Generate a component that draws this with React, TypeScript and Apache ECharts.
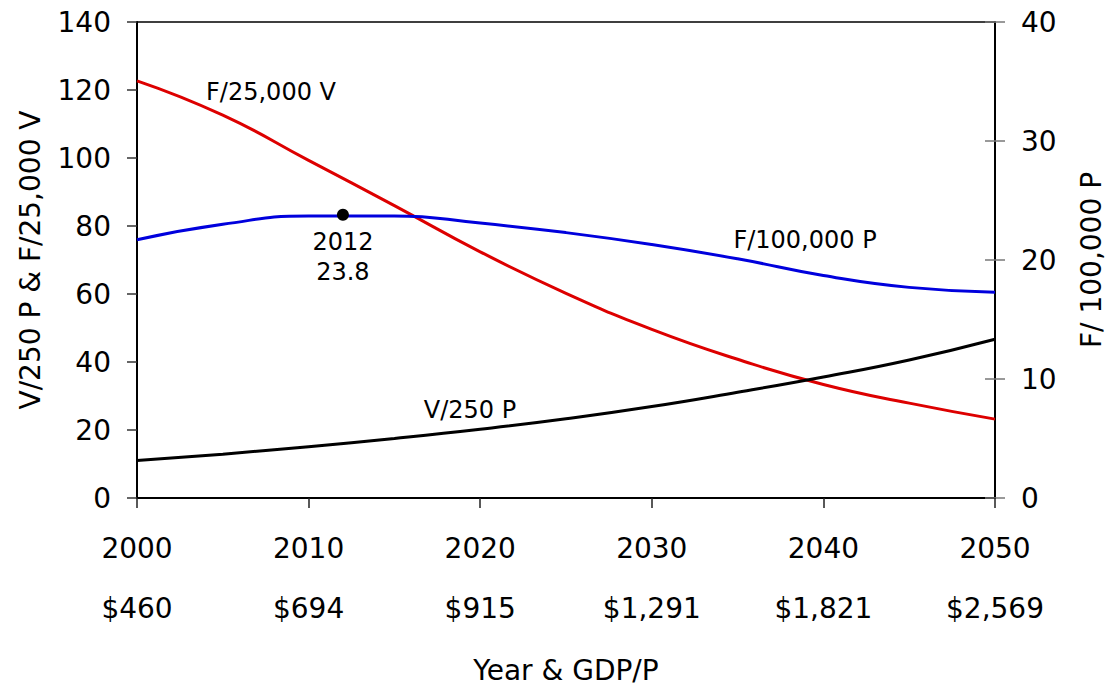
import React, { useEffect, useRef } from "react";
import * as echarts from "echarts";

// Tick values and labels
const tickYears = [2000, 2010, 2020, 2030, 2040, 2050];
const gdpLabels = ["$460", "$694", "$915", "$1,291", "$1,821", "$2,569"];

// Series (left axis): F/25,000 V and V/250 P
const years = [2000, 2005, 2010, 2015, 2020, 2025, 2030, 2035, 2040, 2045, 2050];
const fPer25kV = [122.7, 112.6, 99.3, 86.0, 72.4, 60.2, 49.6, 40.8, 33.4, 27.9, 23.2];
const vPer250P = [11.0, 12.9, 15.1, 17.5, 20.2, 23.3, 26.9, 31.1, 35.6, 40.6, 46.7];

// Series (right axis): F/100,000 P
const fPer100kP = [21.7, 23.0, 23.7, 23.7, 23.1, 22.3, 21.3, 20.1, 18.7, 17.7, 17.3];

// Highlighted peak
const peakYear = 2012;
const peakValue = 23.8;

const FONT = '"DejaVu Sans", Verdana, sans-serif';
const AXIS_FS = 28;
const NOTE_FS = 24;

export default function App() {
  const ref = useRef<HTMLDivElement>(null);
  useEffect(() => {
    document.body.style.margin = "0";
    const chart = echarts.init(ref.current!, null, { renderer: "svg" });
    const pair = (xs: number[], ys: number[]) => xs.map((x, i) => [x, ys[i]]);
    chart.setOption({
      animation: false,
      textStyle: { fontFamily: FONT },
      grid: {
        left: 137,
        top: 22,
        right: 114,
        bottom: 187,
        show: true,
        borderColor: "#000",
        borderWidth: 1.5,
        containLabel: false,
        outerBoundsMode: "none",
      },
      xAxis: {
        type: "value",
        min: 2000,
        max: 2050,
        interval: 10,
        splitLine: { show: false },
        axisLine: { lineStyle: { color: "#000", width: 2 } },
        axisTick: { show: true, inside: false, length: 10, lineStyle: { color: "#222", width: 1.5 } },
        axisLabel: {
          color: "#000",
          fontSize: AXIS_FS,
          fontFamily: FONT,
          lineHeight: 60,
          margin: 20,
          formatter: (v: number) => {
            const i = tickYears.indexOf(v);
            return i >= 0 ? `${v}\n${gdpLabels[i]}` : "";
          },
        },
        name: "Year & GDP/P",
        nameLocation: "middle",
        nameGap: 158,
        nameTextStyle: { color: "#000", fontSize: AXIS_FS, fontFamily: FONT },
      },
      yAxis: [
        {
          type: "value",
          position: "left",
          min: 0,
          max: 140,
          interval: 20,
          splitLine: { show: false },
          axisLine: { show: true, lineStyle: { color: "#000", width: 2 } },
          axisTick: { show: true, inside: false, length: 10, lineStyle: { color: "#333", width: 1.5 } },
          axisLabel: { color: "#000", fontSize: AXIS_FS, fontFamily: FONT, margin: 26 },
          name: "V/250 P & F/25,000 V",
          nameLocation: "middle",
          nameRotate: 90,
          nameGap: 93,
          nameTextStyle: { color: "#000", fontSize: AXIS_FS, fontFamily: FONT },
        },
        {
          type: "value",
          position: "right",
          min: 0,
          max: 40,
          interval: 10,
          splitLine: { show: false },
          axisLine: { show: true, lineStyle: { color: "#000", width: 2 } },
          axisTick: { show: true, inside: false, length: 10, lineStyle: { color: "#777", width: 1.5 } },
          axisLabel: { color: "#000", fontSize: AXIS_FS, fontFamily: FONT, margin: 26 },
          name: "F/ 100,000 P",
          nameLocation: "middle",
          nameRotate: 90,
          nameGap: 82,
          nameTextStyle: { color: "#000", fontSize: AXIS_FS, fontFamily: FONT },
        },
        {
          type: "value",
          position: "right",
          min: 0,
          max: 40,
          interval: 10,
          splitLine: { show: false },
          axisLine: { show: false },
          axisTick: { show: true, inside: true, length: 10, lineStyle: { color: "#777", width: 1.5 } },
          axisLabel: { show: false },
        },
      ],
      series: [
        {
          type: "line",
          name: "F/25,000 V",
          yAxisIndex: 0,
          data: pair(years, fPer25kV),
          smooth: 0.5,
          symbol: "none",
          lineStyle: { color: "#dd0000", width: 3 },
        },
        {
          type: "line",
          name: "V/250 P",
          yAxisIndex: 0,
          data: pair(years, vPer250P),
          smooth: 0.5,
          symbol: "none",
          lineStyle: { color: "#000", width: 3 },
        },
        {
          type: "line",
          name: "F/100,000 P",
          yAxisIndex: 1,
          data: pair(years, fPer100kP),
          smooth: 0.5,
          symbol: "none",
          lineStyle: { color: "#0000dd", width: 3 },
        },
        {
          type: "scatter",
          yAxisIndex: 1,
          data: [[peakYear, peakValue]],
          symbol: "circle",
          symbolSize: 12,
          itemStyle: { color: "#000", opacity: 1 },
          z: 5,
          label: {
            show: true,
            position: "bottom",
            distance: 6,
            formatter: `${peakYear}\n${peakValue}`,
            color: "#000",
            fontSize: NOTE_FS,
            lineHeight: 30,
            fontFamily: FONT,
          },
        },
      ],
      graphic: [
        {
          type: "text",
          x: 271,
          y: 92,
          style: { text: "F/25,000 V", fill: "#000", fontSize: NOTE_FS, fontFamily: FONT, align: "center", verticalAlign: "middle" },
        },
        {
          type: "text",
          x: 805,
          y: 240,
          style: { text: "F/100,000 P", fill: "#000", fontSize: NOTE_FS, fontFamily: FONT, align: "center", verticalAlign: "middle" },
        },
        {
          type: "text",
          x: 470,
          y: 410,
          style: { text: "V/250 P", fill: "#000", fontSize: NOTE_FS, fontFamily: FONT, align: "center", verticalAlign: "middle" },
        },
      ],
    });
    return () => chart.dispose();
  }, []);
  return <div ref={ref} style={{ width: 1109, height: 685 }} />;
}
